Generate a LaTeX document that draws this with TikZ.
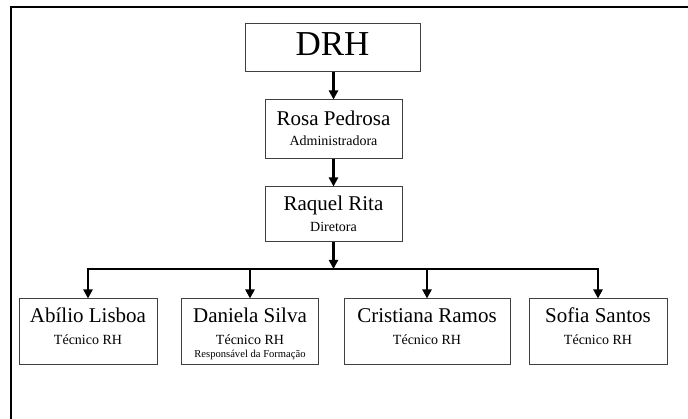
\documentclass[tikz,border=0pt]{standalone}
\usepackage{fontspec}
\setmainfont{Liberation Serif}
\usetikzlibrary{arrows.meta}
\begin{document}
\begin{tikzpicture}[x=1pt,y=-1pt,
  orgbox/.style={draw=black!75, line width=1pt, inner sep=0pt},
  link/.style={line width=2.4pt, -{Triangle[length=9pt,width=9pt]}},
  bus/.style={line width=2.4pt, line join=miter, {Triangle[length=9pt,width=9pt]}-{Triangle[length=9pt,width=9pt]}},
  title/.style={font=\fontsize{35}{40}\selectfont, inner sep=0pt, anchor=base},
  pname/.style={font=\fontsize{21}{24}\selectfont, inner sep=0pt, anchor=base},
  prole/.style={font=\fontsize{14}{16}\selectfont, inner sep=0pt, anchor=base},
  pextra/.style={font=\fontsize{10.6}{12}\selectfont, inner sep=0pt, anchor=base}]
\useasboundingbox (0,0) rectangle (688,419);
% outer frame (runs past the right and bottom edges)
\draw[line width=2.6pt] (11,7) rectangle (720,450);

% boxes
\node[orgbox, minimum width=175pt, minimum height=48pt] (drh) at (332.5,48) {};
\node[orgbox, minimum width=137pt, minimum height=59pt] (rosa) at (333.5,129.5) {};
\node[orgbox, minimum width=137pt, minimum height=55pt] (raquel) at (333.5,214.5) {};
\node[orgbox, minimum width=138pt, minimum height=66pt] (abilio) at (88,332) {};
\node[orgbox, minimum width=137pt, minimum height=66pt] (daniela) at (250,332) {};
\node[orgbox, minimum width=166pt, minimum height=66pt] (cristiana) at (427,332) {};
\node[orgbox, minimum width=138pt, minimum height=66pt] (sofia) at (598,332) {};

% texts
\node[title] (drh-t) at (332.5,56) {DRH};
\node[pname] (rosa-n) at (333.5,126) {Rosa Pedrosa};
\node[prole] (rosa-r) at (333.5,146) {Administradora};
\node[pname] (raquel-n) at (333.5,211) {Raquel Rita};
\node[prole] (raquel-r) at (333.5,232) {Diretora};
\node[pname] (abilio-n) at (88,323) {Abílio Lisboa};
\node[prole] (abilio-r) at (88,344.5) {Técnico RH};
\node[pname] (daniela-n) at (250,323) {Daniela Silva};
\node[prole] (daniela-r) at (250,344.5) {Técnico RH};
\node[pextra] (daniela-x) at (250,357.5) {Responsável da Formação};
\node[pname] (cristiana-n) at (427,323) {Cristiana Ramos};
\node[prole] (cristiana-r) at (427,344.5) {Técnico RH};
\node[pname] (sofia-n) at (598,323) {Sofia Santos};
\node[prole] (sofia-r) at (598,344.5) {Técnico RH};

% connectors
\coordinate (busy) at (0,269);
\draw[link] (drh.south -| rosa.north) -- (rosa.north);
\draw[link] (rosa.south) -- (raquel.north);
\draw[link] (raquel.south) -- (raquel.south |- busy);
\draw[bus] (abilio.north) -- (abilio.north |- busy) -- (sofia.north |- busy) -- (sofia.north);
\draw[link] (daniela.north |- busy) -- (daniela.north);
\draw[link] (cristiana.north |- busy) -- (cristiana.north);
\end{tikzpicture}
\end{document}
